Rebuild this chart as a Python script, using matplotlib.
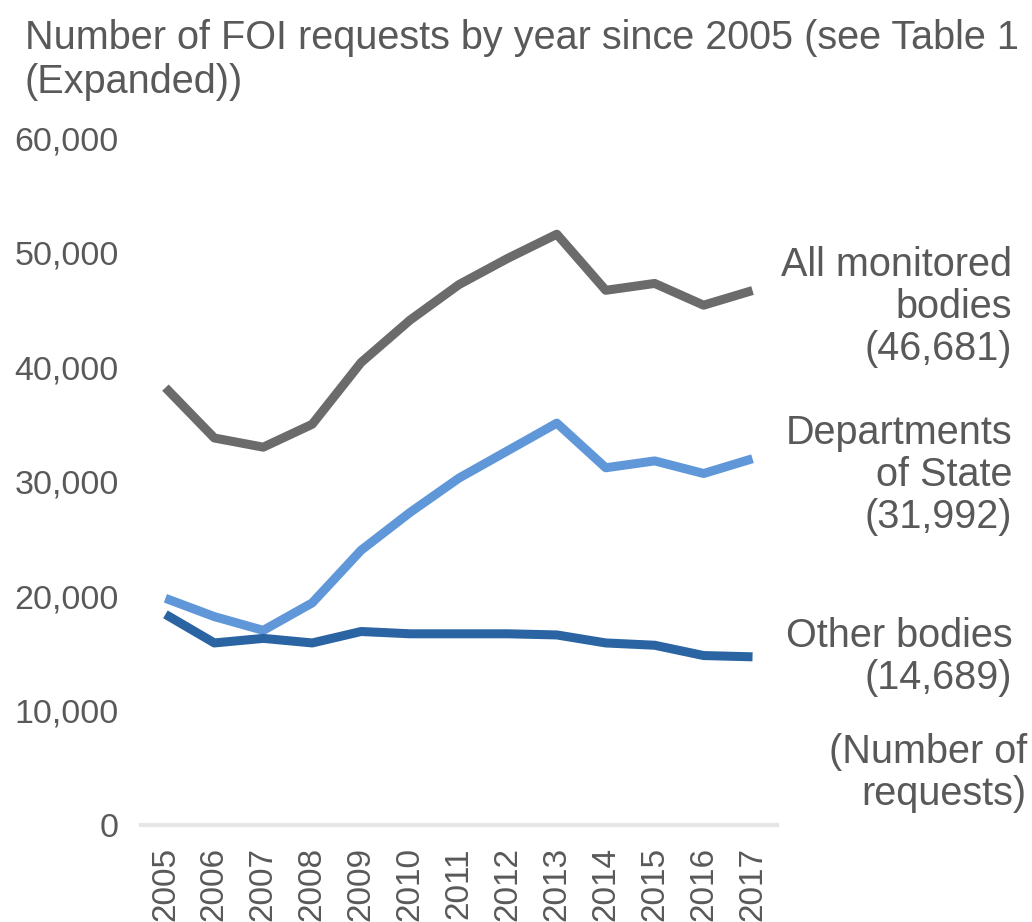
"""
Number of FOI requests by year since 2005
"""
import numpy as np
import matplotlib.pyplot as plt

plt.rcParams['font.family'] = ['Liberation Sans', 'DejaVu Sans']

years = ['2005', '2006', '2007', '2008', '2009', '2010', '2011',
         '2012', '2013', '2014', '2015', '2016', '2017']
all_bodies = [38200, 33800, 33000, 35000, 40400, 44100, 47200,
              49500, 51600, 46700, 47300, 45400, 46681]
departments = [19800, 18200, 17000, 19400, 24000, 27300, 30300,
               32700, 35100, 31200, 31800, 30700, 31992]
other_bodies = [18400, 15900, 16300, 15900, 16900, 16700, 16700,
                16700, 16600, 15900, 15700, 14800, 14689]
yticks = [0, 10000, 20000, 30000, 40000, 50000, 60000]

text_col = '#595959'

fig = plt.figure(figsize=(10.32, 9.22), dpi=100)
ax = fig.add_axes([0.1366, 0.1052, 0.6163, 0.7451])

x = np.arange(len(years))
ax.plot(x, all_bodies, color='#6b6b6b', lw=6.5, solid_joinstyle='round',
        solid_capstyle='butt')
ax.plot(x, departments, color='#5f97d8', lw=6.5, solid_joinstyle='round',
        solid_capstyle='butt')
ax.plot(x, other_bodies, color='#2a64a2', lw=6.5, solid_joinstyle='round',
        solid_capstyle='butt')

ax.set_xlim(-0.5, len(years) - 0.5)
ax.set_ylim(0, 60000)
ax.set_xticks(x)
ax.set_xticklabels(years, rotation=90, fontsize=24, color=text_col)
ax.set_yticks(yticks)
ax.set_yticklabels(['{:,}'.format(v) for v in yticks], fontsize=24.5,
                   color=text_col)
ax.tick_params(length=0, pad=16)

for side in ['left', 'right', 'top']:
    ax.spines[side].set_visible(False)
ax.spines['bottom'].set_color('#e6e6e6')
ax.spines['bottom'].set_linewidth(3)

# title sits a little lower with wider line gap than default
fig.text(0.024, 0.979,
         'Number of FOI requests by year since 2005 (see Table 1\n(Expanded))',
         fontsize=28.5, color=text_col, ha='left', va='top', linespacing=1.2)

lab = dict(fontsize=28.5, color=text_col, ha='right', va='center',
           linespacing=1.13)
fig.text(0.981, 1 - 307 / 922,
         'All monitored\nbodies\n({:,})'.format(all_bodies[-1]), **lab)
fig.text(0.981, 1 - 475 / 922,
         'Departments\nof State\n({:,})'.format(departments[-1]), **lab)
fig.text(0.981, 1 - 657 / 922,
         'Other bodies\n({:,})'.format(other_bodies[-1]), **lab)
fig.text(0.995, 1 - 773 / 922, '(Number of\nrequests)', **lab)

fig.savefig('out.png', dpi=100)
